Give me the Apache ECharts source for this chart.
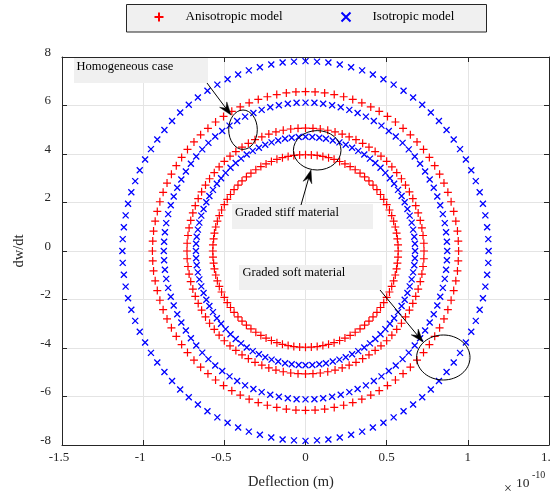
<!DOCTYPE html>
<html><head><meta charset="utf-8">
<script src="https://cdn.jsdelivr.net/npm/echarts/dist/echarts.min.js"></script>
<style>html,body{margin:0;padding:0;background:#fff}#c{width:551px;height:496px}</style>
</head><body><div id="c"></div>
<script>
// ---- data (x in units of 1e-10 m, y = dw/dt) ----
const anisoOuterX = [0.943,0.941,0.936,0.926,0.913,0.897,0.877,0.853,0.826,0.796,0.763,0.727,0.687,0.646,0.601,0.554,0.505,0.454,0.402,0.347,0.291,0.235,0.177,0.118,0.059,0,
-0.059,-0.118,-0.177,-0.235,-0.291,-0.347,-0.402,-0.454,-0.505,-0.554,-0.601,-0.646,-0.687,-0.727,-0.763,-0.796,-0.826,-0.853,-0.877,-0.897,-0.913,-0.926,-0.936,-0.941,-0.943,
-0.941,-0.936,-0.926,-0.913,-0.897,-0.877,-0.853,-0.826,-0.796,-0.763,-0.727,-0.687,-0.646,-0.601,-0.554,-0.505,-0.454,-0.402,-0.347,-0.291,-0.235,-0.177,-0.118,-0.059,0,
0.059,0.118,0.177,0.235,0.291,0.347,0.402,0.454,0.505,0.554,0.601,0.646,0.687,0.727,0.763,0.796,0.826,0.853,0.877,0.897,0.913,0.926,0.936,0.941];
const anisoOuterY = [0,0.41,0.82,1.23,1.63,2.03,2.42,2.80,3.17,3.52,3.86,4.19,4.50,4.79,5.06,5.32,5.55,5.76,5.94,6.11,6.25,6.36,6.45,6.52,6.56,6.57,
6.56,6.52,6.45,6.36,6.25,6.11,5.94,5.76,5.55,5.32,5.06,4.79,4.50,4.19,3.86,3.52,3.17,2.80,2.42,2.03,1.63,1.23,0.82,0.41,0,
-0.41,-0.82,-1.23,-1.63,-2.03,-2.42,-2.80,-3.17,-3.52,-3.86,-4.19,-4.50,-4.79,-5.06,-5.32,-5.55,-5.76,-5.94,-6.11,-6.25,-6.36,-6.45,-6.52,-6.56,-6.57,
-6.56,-6.52,-6.45,-6.36,-6.25,-6.11,-5.94,-5.76,-5.55,-5.32,-5.06,-4.79,-4.50,-4.19,-3.86,-3.52,-3.17,-2.80,-2.42,-2.03,-1.63,-1.23,-0.82,-0.41];

const anisoMidX = [0.730,0.729,0.724,0.717,0.707,0.694,0.679,0.661,0.640,0.616,0.591,0.562,0.532,0.500,0.465,0.429,0.391,0.352,0.311,0.269,0.226,0.182,0.137,0.091,0.046,0,
-0.046,-0.091,-0.137,-0.182,-0.226,-0.269,-0.311,-0.352,-0.391,-0.429,-0.465,-0.500,-0.532,-0.562,-0.591,-0.616,-0.640,-0.661,-0.679,-0.694,-0.707,-0.717,-0.724,-0.729,-0.730,
-0.729,-0.724,-0.717,-0.707,-0.694,-0.679,-0.661,-0.640,-0.616,-0.591,-0.562,-0.532,-0.500,-0.465,-0.429,-0.391,-0.352,-0.311,-0.269,-0.226,-0.182,-0.137,-0.091,-0.046,0,
0.046,0.091,0.137,0.182,0.226,0.269,0.311,0.352,0.391,0.429,0.465,0.500,0.532,0.562,0.591,0.616,0.640,0.661,0.679,0.694,0.707,0.717,0.724,0.729];
const anisoMidY = [0,0.32,0.64,0.95,1.26,1.57,1.87,2.16,2.44,2.72,2.98,3.23,3.47,3.70,3.91,4.10,4.28,4.44,4.59,4.71,4.82,4.91,4.98,5.03,5.06,5.07,
5.06,5.03,4.98,4.91,4.82,4.71,4.59,4.44,4.28,4.10,3.91,3.70,3.47,3.23,2.98,2.72,2.44,2.16,1.87,1.57,1.26,0.95,0.64,0.32,0,
-0.32,-0.64,-0.95,-1.26,-1.57,-1.87,-2.16,-2.44,-2.72,-2.98,-3.23,-3.47,-3.70,-3.91,-4.10,-4.28,-4.44,-4.59,-4.71,-4.82,-4.91,-4.98,-5.03,-5.06,-5.07,
-5.06,-5.03,-4.98,-4.91,-4.82,-4.71,-4.59,-4.44,-4.28,-4.10,-3.91,-3.70,-3.47,-3.23,-2.98,-2.72,-2.44,-2.16,-1.87,-1.57,-1.26,-0.95,-0.64,-0.32];

const anisoInnerX = [0.571,0.570,0.566,0.561,0.553,0.543,0.531,0.517,0.500,0.482,0.462,0.440,0.416,0.391,0.364,0.336,0.306,0.275,0.243,0.210,0.176,0.142,0.107,0.072,0.036,0,
-0.036,-0.072,-0.107,-0.142,-0.176,-0.210,-0.243,-0.275,-0.306,-0.336,-0.364,-0.391,-0.416,-0.440,-0.462,-0.482,-0.500,-0.517,-0.531,-0.543,-0.553,-0.561,-0.566,-0.570,-0.571,
-0.570,-0.566,-0.561,-0.553,-0.543,-0.531,-0.517,-0.500,-0.482,-0.462,-0.440,-0.416,-0.391,-0.364,-0.336,-0.306,-0.275,-0.243,-0.210,-0.176,-0.142,-0.107,-0.072,-0.036,0,
0.036,0.072,0.107,0.142,0.176,0.210,0.243,0.275,0.306,0.336,0.364,0.391,0.416,0.440,0.462,0.482,0.500,0.517,0.531,0.543,0.553,0.561,0.566,0.570];
const anisoInnerY = [0,0.25,0.50,0.74,0.99,1.23,1.46,1.69,1.91,2.13,2.33,2.53,2.72,2.89,3.06,3.21,3.35,3.48,3.59,3.69,3.78,3.85,3.90,3.94,3.96,3.97,
3.96,3.94,3.90,3.85,3.78,3.69,3.59,3.48,3.35,3.21,3.06,2.89,2.72,2.53,2.33,2.13,1.91,1.69,1.46,1.23,0.99,0.74,0.50,0.25,0,
-0.25,-0.50,-0.74,-0.99,-1.23,-1.46,-1.69,-1.91,-2.13,-2.33,-2.53,-2.72,-2.89,-3.06,-3.21,-3.35,-3.48,-3.59,-3.69,-3.78,-3.85,-3.90,-3.94,-3.96,-3.97,
-3.96,-3.94,-3.90,-3.85,-3.78,-3.69,-3.59,-3.48,-3.35,-3.21,-3.06,-2.89,-2.72,-2.53,-2.33,-2.13,-1.91,-1.69,-1.46,-1.23,-0.99,-0.74,-0.50,-0.25];

const isoOuterX = [1.128,1.126,1.119,1.108,1.093,1.073,1.049,1.021,0.988,0.952,0.913,0.869,0.822,0.772,0.719,0.663,0.604,0.543,0.480,0.415,0.349,0.281,0.211,0.141,0.071,0,
-0.071,-0.141,-0.211,-0.281,-0.349,-0.415,-0.480,-0.543,-0.604,-0.663,-0.719,-0.772,-0.822,-0.869,-0.913,-0.952,-0.988,-1.021,-1.049,-1.073,-1.093,-1.108,-1.119,-1.126,-1.128,
-1.126,-1.119,-1.108,-1.093,-1.073,-1.049,-1.021,-0.988,-0.952,-0.913,-0.869,-0.822,-0.772,-0.719,-0.663,-0.604,-0.543,-0.480,-0.415,-0.349,-0.281,-0.211,-0.141,-0.071,0,
0.071,0.141,0.211,0.281,0.349,0.415,0.480,0.543,0.604,0.663,0.719,0.772,0.822,0.869,0.913,0.952,0.988,1.021,1.049,1.073,1.093,1.108,1.119,1.126];
const isoOuterY = [0,0.49,0.98,1.47,1.95,2.42,2.88,3.33,3.77,4.20,4.60,4.99,5.36,5.71,6.03,6.33,6.61,6.86,7.08,7.28,7.45,7.58,7.69,7.77,7.81,7.83,
7.81,7.77,7.69,7.58,7.45,7.28,7.08,6.86,6.61,6.33,6.03,5.71,5.36,4.99,4.60,4.20,3.77,3.33,2.88,2.42,1.95,1.47,0.98,0.49,0,
-0.49,-0.98,-1.47,-1.95,-2.42,-2.88,-3.33,-3.77,-4.20,-4.60,-4.99,-5.36,-5.71,-6.03,-6.33,-6.61,-6.86,-7.08,-7.28,-7.45,-7.58,-7.69,-7.77,-7.81,-7.83,
-7.81,-7.77,-7.69,-7.58,-7.45,-7.28,-7.08,-6.86,-6.61,-6.33,-6.03,-5.71,-5.36,-4.99,-4.60,-4.20,-3.77,-3.33,-2.88,-2.42,-1.95,-1.47,-0.98,-0.49];

const isoMidX = [0.873,0.871,0.866,0.858,0.846,0.830,0.812,0.790,0.765,0.737,0.706,0.673,0.636,0.598,0.556,0.513,0.468,0.421,0.372,0.321,0.270,0.217,0.164,0.109,0.055,0,
-0.055,-0.109,-0.164,-0.217,-0.270,-0.321,-0.372,-0.421,-0.468,-0.513,-0.556,-0.598,-0.636,-0.673,-0.706,-0.737,-0.765,-0.790,-0.812,-0.830,-0.846,-0.858,-0.866,-0.871,-0.873,
-0.871,-0.866,-0.858,-0.846,-0.830,-0.812,-0.790,-0.765,-0.737,-0.706,-0.673,-0.636,-0.598,-0.556,-0.513,-0.468,-0.421,-0.372,-0.321,-0.270,-0.217,-0.164,-0.109,-0.055,0,
0.055,0.109,0.164,0.217,0.270,0.321,0.372,0.421,0.468,0.513,0.556,0.598,0.636,0.673,0.706,0.737,0.765,0.790,0.812,0.830,0.846,0.858,0.866,0.871];
const isoMidY = [0,0.38,0.77,1.15,1.52,1.89,2.25,2.61,2.95,3.28,3.60,3.90,4.19,4.46,4.72,4.95,5.17,5.36,5.54,5.69,5.82,5.93,6.01,6.07,6.11,6.12,
6.11,6.07,6.01,5.93,5.82,5.69,5.54,5.36,5.17,4.95,4.72,4.46,4.19,3.90,3.60,3.28,2.95,2.61,2.25,1.89,1.52,1.15,0.77,0.38,0,
-0.38,-0.77,-1.15,-1.52,-1.89,-2.25,-2.61,-2.95,-3.28,-3.60,-3.90,-4.19,-4.46,-4.72,-4.95,-5.17,-5.36,-5.54,-5.69,-5.82,-5.93,-6.01,-6.07,-6.11,-6.12,
-6.11,-6.07,-6.01,-5.93,-5.82,-5.69,-5.54,-5.36,-5.17,-4.95,-4.72,-4.46,-4.19,-3.90,-3.60,-3.28,-2.95,-2.61,-2.25,-1.89,-1.52,-1.15,-0.77,-0.38];

const isoInnerX = [0.675,0.674,0.670,0.663,0.654,0.642,0.628,0.611,0.592,0.570,0.546,0.520,0.492,0.462,0.430,0.397,0.362,0.325,0.287,0.248,0.209,0.168,0.126,0.085,0.042,0,
-0.042,-0.085,-0.126,-0.168,-0.209,-0.248,-0.287,-0.325,-0.362,-0.397,-0.430,-0.462,-0.492,-0.520,-0.546,-0.570,-0.592,-0.611,-0.628,-0.642,-0.654,-0.663,-0.670,-0.674,-0.675,
-0.674,-0.670,-0.663,-0.654,-0.642,-0.628,-0.611,-0.592,-0.570,-0.546,-0.520,-0.492,-0.462,-0.430,-0.397,-0.362,-0.325,-0.287,-0.248,-0.209,-0.168,-0.126,-0.085,-0.042,0,
0.042,0.085,0.126,0.168,0.209,0.248,0.287,0.325,0.362,0.397,0.430,0.462,0.492,0.520,0.546,0.570,0.592,0.611,0.628,0.642,0.654,0.663,0.670,0.674];
const isoInnerY = [0,0.30,0.59,0.88,1.17,1.46,1.73,2.01,2.27,2.52,2.77,3.00,3.22,3.43,3.63,3.81,3.98,4.13,4.26,4.38,4.48,4.56,4.63,4.67,4.70,4.71,
4.70,4.67,4.63,4.56,4.48,4.38,4.26,4.13,3.98,3.81,3.63,3.43,3.22,3.00,2.77,2.52,2.27,2.01,1.73,1.46,1.17,0.88,0.59,0.30,0,
-0.30,-0.59,-0.88,-1.17,-1.46,-1.73,-2.01,-2.27,-2.52,-2.77,-3.00,-3.22,-3.43,-3.63,-3.81,-3.98,-4.13,-4.26,-4.38,-4.48,-4.56,-4.63,-4.67,-4.70,-4.71,
-4.70,-4.67,-4.63,-4.56,-4.48,-4.38,-4.26,-4.13,-3.98,-3.81,-3.63,-3.43,-3.22,-3.00,-2.77,-2.52,-2.27,-2.01,-1.73,-1.46,-1.17,-0.88,-0.59,-0.30];

const xTickLabels = ['-1.5','-1','-0.5','0','0.5','1','1.5'];
const yTickLabels = ['-8','-6','-4','-2','0','2','4','6','8'];
const seriesNames = ['Anisotropic model','Isotropic model'];
const annotationTexts = ['Homogeneous case','Graded stiff material','Graded soft material'];

// ---- chart ----
const FONT = '"Liberation Serif","Times New Roman",serif';
const AX = '#262626';
const PLUS = 'path://M0,5L10,5M5,0L5,10';
const CROSS = 'path://M0,0L10,10M0,10L10,0';
const pairs = (xs, ys) => xs.map((x, i) => [x, ys[i]]);

function sc(name, xs, ys, sym, color, size, bw) {
  return { type: 'scatter', name, data: pairs(xs, ys), symbol: sym, symbolSize: size,
    itemStyle: { color: 'none', borderColor: color, borderWidth: bw, opacity: 1 },
    silent: true, animation: false, z: 3 };
}

function arrow(x1, y1, x2, y2) {
  const L = 13, W = 9;
  const dx = x2 - x1, dy = y2 - y1, d = Math.hypot(dx, dy);
  const ux = dx / d, uy = dy / d, nx = -uy, ny = ux;
  const nX = x2 - 0.65 * L * ux, nY = y2 - 0.65 * L * uy;
  return [
    { type: 'line', shape: { x1, y1, x2: nX, y2: nY }, style: { stroke: '#000', lineWidth: 1 }, z: 20 },
    { type: 'polygon', shape: { points: [[x2, y2], [x2 - L * ux + W / 2 * nx, y2 - L * uy + W / 2 * ny], [nX, nY], [x2 - L * ux - W / 2 * nx, y2 - L * uy - W / 2 * ny]] },
      style: { fill: '#000', stroke: '#000', lineWidth: 0.5 }, z: 20 }
  ];
}

function box(x, y, w, h, tx, ty, text) {
  return [
    { type: 'rect', shape: { x, y, width: w, height: h }, style: { fill: '#f0f0f0', stroke: null }, z: 18 },
    { type: 'text', x: tx, y: ty, style: { text, fontFamily: FONT, fontSize: 12.5, fill: '#000', align: 'left', verticalAlign: 'middle' }, z: 19 }
  ];
}

const labelText = { fontFamily: FONT, fontSize: 13, color: AX };

const option = {
  backgroundColor: '#fff',
  animation: false,
  grid: { left: 62, top: 57, width: 487, height: 388, containLabel: false, outerBoundsMode: 'none' },
  xAxis: [
    { type: 'value', min: -1.5, max: 1.5, interval: 0.5, position: 'bottom',
      axisLine: { show: true, onZero: false, lineStyle: { color: AX, width: 1 } },
      axisTick: { show: true, inside: true, length: 5, lineStyle: { color: AX } },
      splitLine: { show: true, lineStyle: { color: '#e4e4e4', width: 1 } },
      axisLabel: { show: true, margin: 6, showMinLabel: true, showMaxLabel: true,
        formatter: v => { const s = xTickLabels[Math.round((v + 1.5) / 0.5)]; return v < 0 ? '{n|' + s + '}' : '{p|' + s + '}'; },
        rich: { n: Object.assign({ padding: [0, 6, 0, 0] }, labelText), p: Object.assign({}, labelText) } } },
    { type: 'value', min: -1.5, max: 1.5, interval: 0.5, position: 'top',
      axisLine: { show: true, onZero: false, lineStyle: { color: AX, width: 1 } },
      axisTick: { show: true, inside: true, length: 5, lineStyle: { color: AX } },
      splitLine: { show: false }, axisLabel: { show: false } }
  ],
  yAxis: [
    { type: 'value', min: -8, max: 8, interval: 2, position: 'left',
      axisLine: { show: true, onZero: false, lineStyle: { color: AX, width: 1 } },
      axisTick: { show: true, inside: true, length: 5, lineStyle: { color: AX } },
      splitLine: { show: true, lineStyle: { color: '#e4e4e4', width: 1 } },
      axisLabel: { show: true, margin: 11, showMinLabel: true, showMaxLabel: true,
        formatter: v => '{y|' + yTickLabels[Math.round((v + 8) / 2)] + '}',
        rich: { y: Object.assign({ padding: [0, 0, 9, 0] }, labelText) } } },
    { type: 'value', min: -8, max: 8, interval: 2, position: 'right',
      axisLine: { show: true, onZero: false, lineStyle: { color: AX, width: 1 } },
      axisTick: { show: true, inside: true, length: 5, lineStyle: { color: AX } },
      splitLine: { show: false }, axisLabel: { show: false } }
  ],
  legend: [
    { data: [seriesNames[0]], left: 152, top: 10, padding: 0, itemWidth: 9, itemHeight: 9, selectedMode: false, z: 30,
      textStyle: { fontFamily: FONT, fontSize: 13, color: '#000', padding: [0, 0, 0, 17] } },
    { data: [seriesNames[1]], left: 339, top: 10, padding: 0, itemWidth: 9, itemHeight: 9, selectedMode: false, z: 30,
      textStyle: { fontFamily: FONT, fontSize: 13, color: '#000', padding: [0, 0, 0, 17] } }
  ],
  series: [
    sc(seriesNames[0], anisoOuterX, anisoOuterY, PLUS, '#ff0000', 8, 1.2),
    sc(seriesNames[0], anisoMidX, anisoMidY, PLUS, '#ff0000', 8, 1.2),
    sc(seriesNames[0], anisoInnerX, anisoInnerY, PLUS, '#ff0000', 8, 1.2),
    sc(seriesNames[1], isoOuterX, isoOuterY, CROSS, '#0000ff', 6, 1.3),
    sc(seriesNames[1], isoMidX, isoMidY, CROSS, '#0000ff', 6, 1.3),
    sc(seriesNames[1], isoInnerX, isoInnerY, CROSS, '#0000ff', 6, 1.3)
  ],
  graphic: [
    { type: 'rect', shape: { x: 126.5, y: 4.5, width: 360, height: 27.5 }, style: { fill: '#f0f0f0', stroke: AX, lineWidth: 1 }, z: 1 },
    ...box(74, 58, 134, 25, 76.5, 67, annotationTexts[0]),
    ...box(232, 204, 141, 25, 235, 213, annotationTexts[1]),
    ...box(239, 265, 143, 25, 242.5, 273, annotationTexts[2]),
    ...arrow(207, 83, 231, 115),
    ...arrow(301, 205, 311, 170),
    ...arrow(380, 290, 423, 342),
    { type: 'ellipse', shape: { cx: 243, cy: 129.7, rx: 14.3, ry: 19.7 }, style: { fill: null, stroke: '#000', lineWidth: 1 }, z: 20 },
    { type: 'ellipse', shape: { cx: 317.2, cy: 150.3, rx: 23.8, ry: 19.7 }, style: { fill: null, stroke: '#000', lineWidth: 1 }, z: 20 },
    { type: 'ellipse', shape: { cx: 443.3, cy: 357.5, rx: 26.7, ry: 22.5 }, style: { fill: null, stroke: '#000', lineWidth: 1 }, z: 20 },
    { type: 'text', x: 291, y: 482, style: { text: 'Deflection (m)', fontFamily: FONT, fontSize: 14.5, fill: AX, align: 'center', verticalAlign: 'middle' } },
    { type: 'text', x: 19, y: 251, rotation: Math.PI / 2, style: { text: 'dw/dt', fontFamily: FONT, fontSize: 14.5, fill: AX, align: 'center', verticalAlign: 'middle' } },
    { type: 'text', x: 508, y: 489, style: { text: '\u00d7', fontFamily: FONT, fontSize: 14, fill: AX, align: 'center', verticalAlign: 'middle' } },
    { type: 'text', x: 516, y: 483, style: { text: '10', fontFamily: FONT, fontSize: 13.5, fill: AX, align: 'left', verticalAlign: 'middle' } },
    { type: 'text', x: 532, y: 475, style: { text: '-10', fontFamily: FONT, fontSize: 10, fill: AX, align: 'left', verticalAlign: 'middle' } }
  ]
};

const chart = echarts.init(document.getElementById('c'), null, { renderer: 'canvas' });
chart.setOption(option);
</script>
</body></html>
